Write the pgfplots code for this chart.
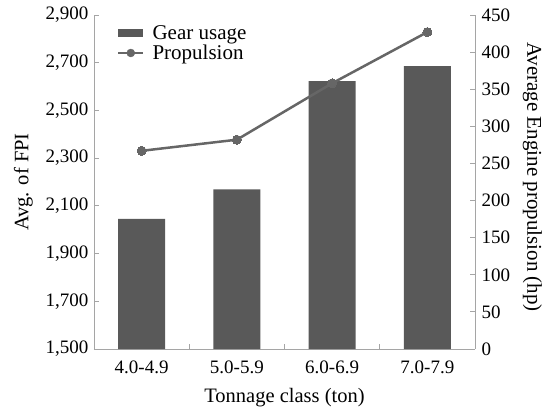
\documentclass[border=0pt]{standalone}
\usepackage{fontspec}
\setmainfont{Liberation Serif}
\usepackage{pgfplots}
\pgfplotsset{compat=1.18}
\definecolor{barc}{RGB}{89,89,89}
\definecolor{linec}{RGB}{102,102,102}
\definecolor{axc}{RGB}{165,165,165}
\begin{document}
\begin{tikzpicture}
\useasboundingbox (-94pt,-61pt) rectangle (453pt,349pt);
\begin{axis}[
  scale only axis, width=381pt, height=334pt, at={(0,0)}, anchor=south west,
  xmin=-0.5, xmax=3.5, ymin=1500, ymax=2900,
  axis x line*=bottom, axis y line*=left,
  axis line style={axc, line width=0.8pt},
  tick style={axc, line width=0.8pt}, major tick length=5pt,
  xtick={0.5,1.5,2.5}, xticklabels={},
  extra x ticks={0,1,2,3},
  extra x tick labels={4.0-4.9,5.0-5.9,6.0-6.9,7.0-7.9},
  extra x tick style={major tick length=0pt, xticklabel style={yshift=-8pt}},
  ytick={1500,1700,...,2900},
  /pgf/number format/.cd, 1000 sep={,}, assume math mode=true, /pgfplots/.cd,
  tick label style={font=\fontsize{19}{19}\selectfont, text=black},
  yticklabel style={xshift=-2pt},
  label style={font=\fontsize{20.5}{20.5}\selectfont},
  xlabel={Tonnage class (ton)},
  x label style={yshift=-8pt},
  ylabel={Avg. of FPI},
  y label style={yshift=6pt},
  legend style={at={(0.06,0.975)}, anchor=north west, draw=none, fill=none,
    font=\fontsize{21}{21}\selectfont, inner sep=0pt, row sep=0pt, column sep=6pt},
  legend cell align=left,
]
\addplot[ybar, bar width=47pt, fill=barc, draw=none,
  legend image code/.code={\fill[barc] (0pt,-4pt) rectangle (25pt,4pt);}]
  coordinates {(0,2045) (1,2169) (2,2623) (3,2686)};
\addlegendentry{Gear usage}
\addlegendimage{legend image code/.code={\draw[linec, line width=2.5pt] (0pt,0pt) -- (25pt,0pt); \fill[linec] (12.5pt,0pt) circle (4pt);}}
\addlegendentry{Propulsion}
\end{axis}
\begin{axis}[
  scale only axis, width=381pt, height=334pt, at={(0,0)}, anchor=south west,
  xmin=-0.5, xmax=3.5, ymin=0, ymax=450,
  axis x line=none, axis y line*=right,
  axis line style={axc, line width=0.8pt},
  tick style={axc, line width=0.8pt}, major tick length=5pt,
  ytick={0,50,...,450},
  /pgf/number format/.cd, assume math mode=true, /pgfplots/.cd,
  tick label style={font=\fontsize{19}{19}\selectfont, text=black},
  yticklabel style={xshift=3pt},
  label style={font=\fontsize{21}{21}\selectfont},
  ylabel={Average Engine propulsion (hp)},
  y label style={rotate=180, yshift=6pt, xshift=-5pt},
]
\addplot[linec, line width=2.5pt, mark=*, mark size=4.5pt,
  mark options={fill=linec, draw=linec, line width=0pt}]
  coordinates {(0,267) (1,282) (2,358) (3,427)};
\end{axis}
\end{tikzpicture}
\end{document}
